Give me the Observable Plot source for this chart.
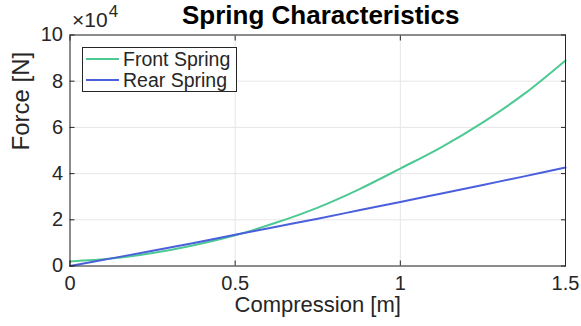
<!DOCTYPE html>
<html>
<head>
<meta charset="utf-8">
<script src="https://cdn.jsdelivr.net/npm/d3@7"></script>
<script src="https://cdn.jsdelivr.net/npm/@observablehq/plot@0.6"></script>
<style>
  html, body { margin: 0; padding: 0; background: #fff; }
  #wrap { position: relative; width: 581px; height: 326px; font-family: "Liberation Sans", Arial, sans-serif; }
  #legend { position: absolute; left: 82px; top: 47px; width: 155px; height: 45px; border: 1px solid #262626; background: #fff; box-sizing: border-box; font-size: 19.5px; color: #262626; }
  .entry { position: absolute; left: 3px; height: 20px; display: flex; align-items: center; white-space: nowrap; }
  .entry span.sw { display: inline-block; width: 33px; height: 2px; margin-right: 4px; }
</style>
</head>
<body>
<div id="wrap"></div>
<script>
// Data (Force in Newtons)
const compression = [0, 0.125, 0.25, 0.375, 0.5, 0.625, 0.75, 0.875, 1.0, 1.125, 1.25, 1.375, 1.5];
const frontForce = [2000, 3200, 5600, 9000, 13300, 18800, 25300, 33200, 42200, 51500, 62200, 74500, 89000];
const rearForce  = [0, 3300, 6600, 10000, 13500, 17000, 20500, 24100, 27700, 31400, 35100, 38800, 42600];
const seriesNames = ["Front Spring", "Rear Spring"];
const seriesColors = ["#4dc993", "#4a5fdc"];
const xTicks = [0, 0.5, 1, 1.5];
const yTicks = [0, 20000, 40000, 60000, 80000, 100000];
const title = "Spring Characteristics";
const xLabel = "Compression [m]";
const yLabel = "Force [N]";
const exponentBase = "×10";
const exponent = "4";

const rows = [];
compression.forEach((c, i) => {
  rows.push({x: c, y: frontForce[i], s: seriesNames[0]});
  rows.push({x: c, y: rearForce[i], s: seriesNames[1]});
});

const ink = "#262626";
const plot = Plot.plot({
  width: 581,
  height: 326,
  marginLeft: 69.5,
  marginRight: 16,
  marginTop: 34.5,
  marginBottom: 60.5,
  style: {fontFamily: "'Liberation Sans', Arial, sans-serif", background: "#fff", color: ink},
  x: {domain: [0, 1.5]},
  y: {domain: [0, 100000]},
  color: {domain: seriesNames, range: seriesColors},
  marks: [
    Plot.gridX(xTicks, {stroke: "#e6e6e6", strokeOpacity: 1}),
    Plot.gridY(yTicks, {stroke: "#e6e6e6", strokeOpacity: 1}),
    Plot.line(rows, {x: "x", y: "y", stroke: "s", z: "s", strokeWidth: 2, curve: "catmull-rom"}),
    Plot.frame({stroke: ink, strokeWidth: 1}),
    Plot.axisX(xTicks, {anchor: "bottom", tickSize: -5, stroke: ink, text: null, label: null}),
    Plot.axisX(xTicks, {anchor: "top", tickSize: -5, stroke: ink, text: null, label: null}),
    Plot.axisY(yTicks, {anchor: "left", tickSize: -5, stroke: ink, text: null, label: null}),
    Plot.axisY(yTicks, {anchor: "right", tickSize: -5, stroke: ink, text: null, label: null}),
    Plot.axisX(xTicks, {anchor: "bottom", tickSize: 0, tickPadding: 10, fontSize: 20, fill: ink, label: null, tickFormat: d => String(d)}),
    Plot.axisY(yTicks, {anchor: "left", tickSize: 0, tickPadding: 7, fontSize: 20, fill: ink, label: null, tickFormat: d => String(d / 10000)}),
    Plot.text([xLabel], {frameAnchor: "bottom", dy: 46, fontSize: 22, fill: ink, lineAnchor: "bottom"}),
    Plot.text([yLabel], {frameAnchor: "left", rotate: -90, dx: -41, fontSize: 24, fill: ink, lineAnchor: "bottom"}),
    Plot.text([title], {frameAnchor: "top", dx: 3, dy: -11.5, fontSize: 26, fontWeight: "bold", fill: "#000", lineAnchor: "bottom"})
  ]
});

// ×10^4 exponent label at top-left of the axes
const svg = d3.select(plot);
const expText = svg.append("text")
  .attr("x", 72)
  .attr("y", 27)
  .attr("fill", ink)
  .attr("text-anchor", "start")
  .style("text-anchor", "start")
  .style("font-family", "'Liberation Sans', Arial, sans-serif")
  .style("font-size", "21px");
expText.append("tspan").text(exponentBase);
expText.append("tspan").style("font-size", "17px").attr("dy", -10).attr("dx", 1).text(exponent);

const wrap = document.getElementById("wrap");
wrap.appendChild(plot);

const legend = document.createElement("div");
legend.id = "legend";
seriesNames.forEach((name, i) => {
  const e = document.createElement("div");
  e.className = "entry";
  e.style.top = (1 + i * 21) + "px";
  const sw = document.createElement("span");
  sw.className = "sw";
  sw.style.background = seriesColors[i];
  e.appendChild(sw);
  e.appendChild(document.createTextNode(name));
  legend.appendChild(e);
});
wrap.appendChild(legend);
</script>
</body>
</html>
